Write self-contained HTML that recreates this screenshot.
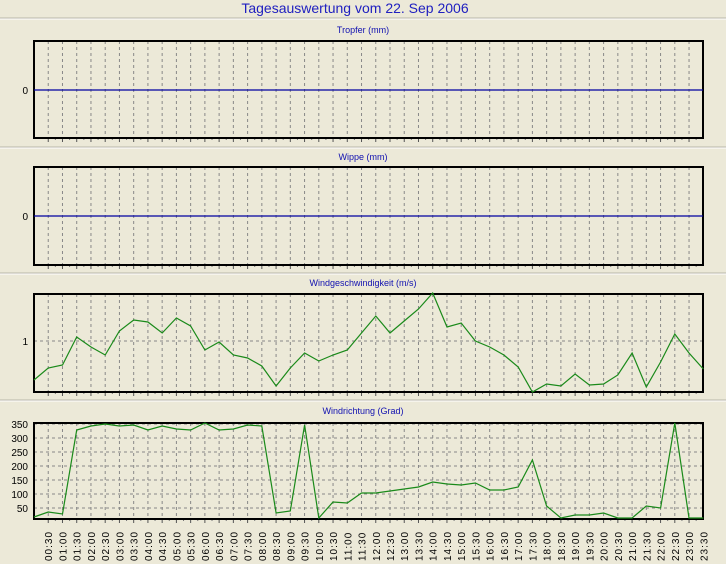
<!DOCTYPE html>
<html><head><meta charset="utf-8"><style>
html,body{margin:0;padding:0;background:#ece9d8;}
svg{display:block;font-family:"Liberation Sans",sans-serif;}
</style></head><body>
<svg id="s" width="726" height="564" xmlns="http://www.w3.org/2000/svg">
<rect width="726" height="564" fill="#ece9d8"/>
<text x="355" y="13" font-size="14" fill="#2020c0" text-anchor="middle">Tagesauswertung vom 22. Sep 2006</text>
<g id="g"></g>
</svg>
<script>
var g=document.getElementById('g'),h='';
var X0=34,DX=14.24;
function line(x1,y1,x2,y2,st,w,d){return '<line x1="'+x1+'" y1="'+y1+'" x2="'+x2+'" y2="'+y2+'" stroke="'+st+'" stroke-width="'+(w||1)+'"'+(d?' stroke-dasharray="'+d+'"':'')+'/>';}
function panel(sep,title,ty,top,bot,hl){
  h+=line(0,sep,726,sep,'#b8b6a8',1);h+=line(0,sep+1,726,sep+1,'#fff',1);
  h+='<text x="363" y="'+ty+'" font-size="9" fill="#1010b0" text-anchor="middle">'+title+'</text>';
  for(var i=1;i<=46;i++){var x=X0+i*DX;h+=line(x,top,x,bot,'#888',1,'3,3');h+=line(x,bot,x,bot+4,'#555',1);}
  for(var i=1;i<=46;i++){var x=X0+i*DX+DX/2;h+=line(x,bot,x,bot+2,'#777',1);}
  (hl||[]).forEach(function(y){h+=line(X0,y,703,y,'#888',1,'3,3');});
  h+='<rect x="'+X0+'" y="'+top+'" width="'+(703-X0)+'" height="'+(bot-top)+'" fill="none" stroke="#000" stroke-width="2"/>';
}
panel(18,'Tropfer (mm)',33,41,138);
h+=line(X0,90,703,90,'#0000a0',1.3);h+='<text x="28" y="94" font-size="10" text-anchor="end">0</text>';
panel(147,'Wippe (mm)',160,167,265);
h+=line(X0,216,703,216,'#0000a0',1.3);h+='<text x="28" y="220" font-size="10" text-anchor="end">0</text>';
panel(273,'Windgeschwindigkeit (m/s)',286,294,392,[341]);
h+='<text x="28" y="345" font-size="10" text-anchor="end">1</text>';
var ws=[380,368,365,337,347,355,331,320,322,333,318,326,350,342,355,358,366,386,368,353,361,355,350,333,316,333,321,309,293,327,323,341,347,355,367,392,384,386,374,385,384,375,353,387,362,334,353,369];
var p=ws.map(function(y,i){return (X0+i*DX).toFixed(1)+','+y;}).join(' ');
h+='<polyline points="'+p+'" fill="none" stroke="#1a8a1a" stroke-width="1.2"/>';
var hy=[];for(var v=50;v<=350;v+=50)hy.push(522-v*14/50*1);
panel(400,'Windrichtung (Grad)',414,423,519,[424,438,452,466,480,494,508]);
[350,300,250,200,150,100,50].forEach(function(v,k){h+='<text x="28" y="'+(428+k*14)+'" font-size="10" text-anchor="end">'+v+'</text>';});
var wd=[517,512,514,430,426,424,426,425,430,426,429,430,423,430,429,425,426,513,511,425,518,502,503,493,493,491,489,487,482,484,485,483,490,490,487,460,506,518,515,515,513,518,518,506,508,423,518,518];
p=wd.map(function(y,i){return (X0+i*DX).toFixed(1)+','+y;}).join(' ');
h+='<polyline points="'+p+'" fill="none" stroke="#1a8a1a" stroke-width="1.2"/>';
for(var i=1;i<=47;i++){var m=i*30,hh=Math.floor(m/60),mm=m%60;var t=(hh<10?'0':'')+hh+':'+(mm?'30':'00');var x=X0+i*DX+4;
 h+='<text transform="translate('+x.toFixed(1)+',561) rotate(-90)" font-size="10" letter-spacing="1">'+t+'</text>';}
g.innerHTML=h;
</script>
</body></html>
